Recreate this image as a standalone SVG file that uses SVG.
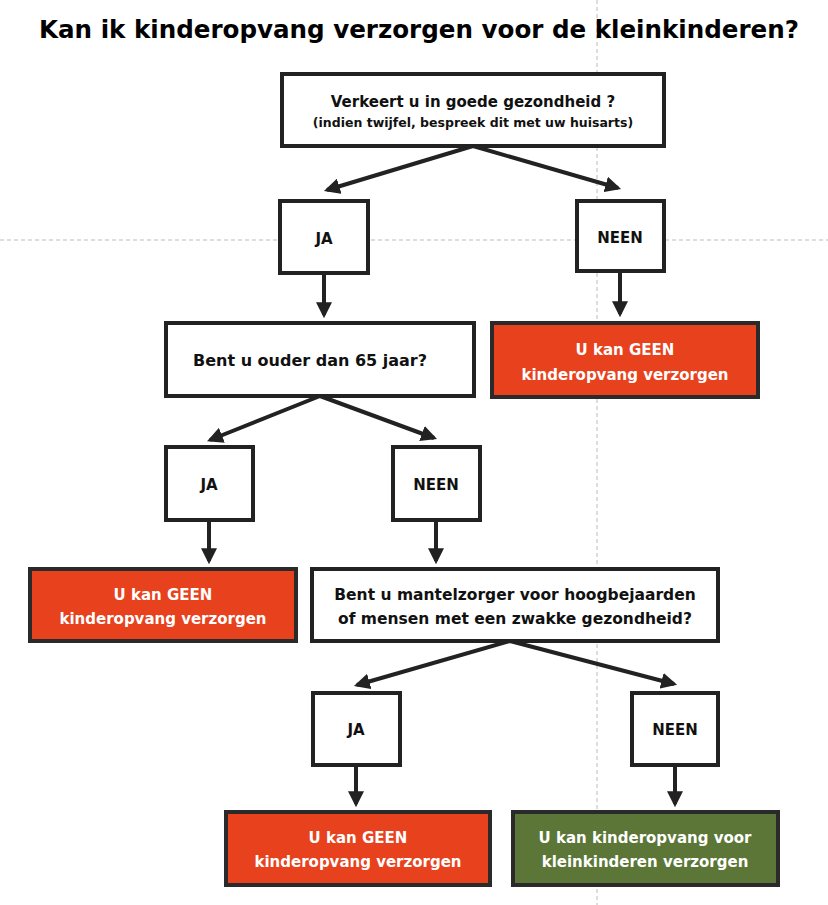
<svg xmlns="http://www.w3.org/2000/svg" width="828" height="905" viewBox="0 0 828 905">
<style>
text{font-family:"DejaVu Sans","Liberation Sans",sans-serif;font-weight:bold;text-anchor:middle}
.b{fill:#fff;stroke:#222;stroke-width:4}
.r{fill:#e8411e;stroke:#2a2a2a;stroke-width:4}
.g{fill:#5b7636;stroke:#2a2a2a;stroke-width:4}
.t{font-size:15px;fill:#111}
.w{font-size:15px;fill:#fff}
.c line{stroke:#222;stroke-width:4;marker-end:url(#a)}
.guide{stroke:#bbb;stroke-width:1;stroke-dasharray:4 3}
</style>
<defs><marker id="a" viewBox="0 0 10 10" refX="8" refY="5" markerWidth="4" markerHeight="4" orient="auto" markerUnits="strokeWidth"><path d="M0,0L10,5L0,10z" fill="#222"/></marker></defs>
<rect width="828" height="905" fill="#fff"/>
<line class="guide" x1="0" y1="240" x2="828" y2="240"/>
<line class="guide" x1="597" y1="0" x2="597" y2="905"/>
<text x="419" y="38" font-size="24" fill="#000" textLength="760" lengthAdjust="spacingAndGlyphs">Kan ik kinderopvang verzorgen voor de kleinkinderen?</text>
<g id="q1"><rect class="b" x="282" y="74" width="382" height="72"/><text class="t" x="473" y="107" font-size="17">Verkeert u in goede gezondheid ?</text><text class="t" x="473" y="127" style="font-size:12.5px">(indien twijfel, bespreek dit met uw huisarts)</text></g>
<g id="ja1"><rect class="b" x="280" y="201" width="88" height="72"/><text class="t" x="324" y="244">JA</text></g>
<g id="neen1"><rect class="b" x="577" y="201" width="87" height="70"/><text class="t" x="620" y="243">NEEN</text></g>
<g id="q2"><rect class="b" x="166" y="323" width="308" height="73"/><text class="t" x="310" y="366" style="font-size:16px">Bent u ouder dan 65 jaar?</text></g>
<g id="r1"><rect class="r" x="492" y="323" width="266" height="74"/><text class="w" x="625" y="355">U kan GEEN</text><text class="w" x="625" y="380">kinderopvang verzorgen</text></g>
<g id="ja2"><rect class="b" x="166" y="447" width="87" height="73"/><text class="t" x="209" y="490">JA</text></g>
<g id="neen2"><rect class="b" x="393" y="447" width="87" height="73"/><text class="t" x="436" y="490">NEEN</text></g>
<g id="r2"><rect class="r" x="30" y="569" width="266" height="72"/><text class="w" x="163" y="600">U kan GEEN</text><text class="w" x="163" y="624">kinderopvang verzorgen</text></g>
<g id="q3"><rect class="b" x="312" y="569" width="406" height="72"/><text class="t" x="515" y="600" style="font-size:15.5px">Bent u mantelzorger voor hoogbejaarden</text><text class="t" x="515" y="624" style="font-size:15.5px">of mensen met een zwakke gezondheid?</text></g>
<g id="ja3"><rect class="b" x="313" y="693" width="87" height="72"/><text class="t" x="356" y="735">JA</text></g>
<g id="neen3"><rect class="b" x="632" y="693" width="86" height="72"/><text class="t" x="675" y="735">NEEN</text></g>
<g id="r3"><rect class="r" x="226" y="812" width="264" height="73"/><text class="w" x="358" y="843">U kan GEEN</text><text class="w" x="358" y="867">kinderopvang verzorgen</text></g>
<g id="ok"><rect class="g" x="513" y="812" width="265" height="73"/><text class="w" x="645" y="843">U kan kinderopvang voor</text><text class="w" x="645" y="867">kleinkinderen verzorgen</text></g>
<g class="c">
<line x1="473" y1="146" x2="327" y2="190"/>
<line x1="473" y1="146" x2="618" y2="188"/>
<line x1="324" y1="273" x2="324" y2="315"/>
<line x1="620" y1="271" x2="620" y2="314"/>
<line x1="320" y1="396" x2="210" y2="440"/>
<line x1="320" y1="396" x2="434" y2="438"/>
<line x1="209" y1="520" x2="209" y2="561"/>
<line x1="436" y1="520" x2="436" y2="561"/>
<line x1="510" y1="641" x2="357" y2="685"/>
<line x1="510" y1="641" x2="674" y2="684"/>
<line x1="356" y1="765" x2="356" y2="804"/>
<line x1="675" y1="765" x2="675" y2="804"/>
</g>
</svg>
